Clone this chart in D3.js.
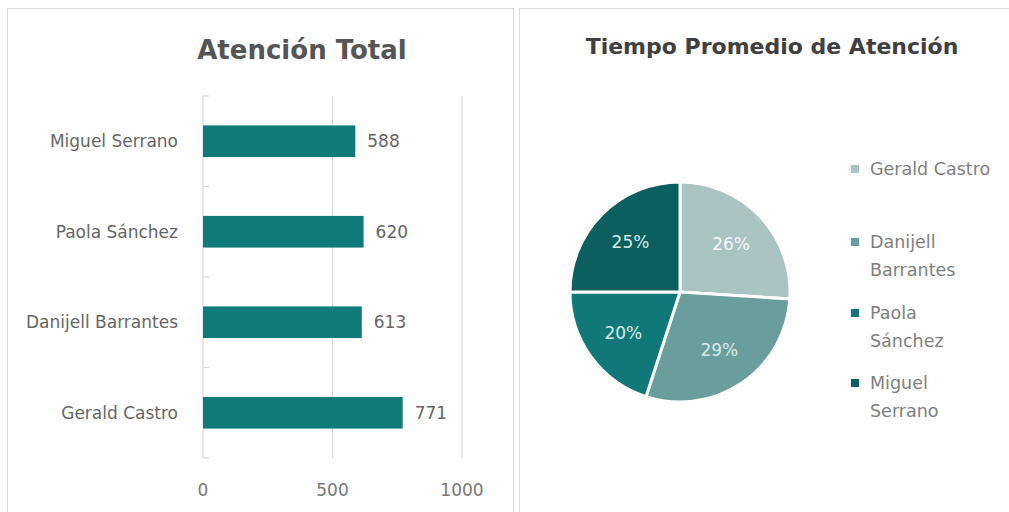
<!DOCTYPE html>
<html>
<head>
<meta charset="utf-8">
<script src="https://cdn.jsdelivr.net/npm/d3@7"></script>
<style>
  body { margin: 0; background: #fff; }
  text { font-family: "DejaVu Sans", "Noto Sans", sans-serif; }
</style>
</head>
<body>
<script>
// bar chart data (top to bottom)
const barNames = ["Miguel Serrano", "Paola Sánchez", "Danijell Barrantes", "Gerald Castro"];
const barValues = [588, 620, 613, 771];
const xTicks = [0, 500, 1000];

// pie data (clockwise from 12 o'clock)
const pieNames = ["Gerald Castro", "Danijell Barrantes", "Paola Sánchez", "Miguel Serrano"];
const pieShares = [26, 29, 20, 25];
const pieLegend = [["Gerald Castro"], ["Danijell", "Barrantes"], ["Paola", "Sánchez"], ["Miguel", "Serrano"]];
const pieColors = ["#a9c4c3", "#6a9e9d", "#11787a", "#0c5f5f"];

function draw() {
    let svg = d3.select("body").append("svg")
        .attr("width", 1009)
        .attr("height", 512);

    // panel frames
    svg.append("rect").attr("x", 7.5).attr("y", 8.5).attr("width", 506).attr("height", 520)
        .attr("fill", "#fff").attr("stroke", "#d9d9d9");
    svg.append("rect").attr("x", 519.5).attr("y", 8.5).attr("width", 500).attr("height", 520)
        .attr("fill", "#fff").attr("stroke", "#d9d9d9");

    // ---- left: Atención Total ----
    svg.append("text").attr("x", 302).attr("y", 59)
        .attr("text-anchor", "middle")
        .style("font-size", "26px").style("font-weight", "bold").attr("fill", "#555")
        .text("Atención Total");

    let x = d3.scaleLinear().domain([0, 1000]).range([203, 462]);
    let y = d3.scaleBand().domain(barNames).range([96, 458]).paddingInner(0.65).paddingOuter(0.325);

    // gridlines
    svg.selectAll(".grid").data(xTicks.slice(1)).enter().append("line")
        .attr("x1", d => x(d)).attr("x2", d => x(d))
        .attr("y1", 96).attr("y2", 458)
        .attr("stroke", "#d9d9d9").attr("stroke-width", 1.2);

    // y axis line and category ticks
    let yAxis = svg.append("g").attr("transform", "translate(203,0)");
    yAxis.append("line").attr("y1", 96).attr("y2", 458).attr("stroke", "#d9d9d9").attr("stroke-width", 1.2);
    let bounds = [96].concat(barNames.map(n => y(n) + y.bandwidth() + y.step() * y.paddingInner() / 2));
    bounds[bounds.length - 1] = 458;
    yAxis.selectAll(".tk").data(bounds).enter().append("line")
        .attr("x1", 0).attr("x2", 6).attr("y1", d => d).attr("y2", d => d)
        .attr("stroke", "#d9d9d9").attr("stroke-width", 1.2);

    svg.selectAll(".bar").data(barNames).enter().append("rect")
        .attr("x", x(0)).attr("y", n => y(n))
        .attr("width", (n, i) => x(barValues[i]) - x(0))
        .attr("height", y.bandwidth())
        .attr("fill", "#0f7b78");

    svg.selectAll(".val").data(barNames).enter().append("text")
        .attr("x", (n, i) => x(barValues[i]) + 12)
        .attr("y", n => y(n) + y.bandwidth() / 2)
        .attr("dy", "0.35em")
        .style("font-size", "17px").attr("fill", "#666")
        .text((n, i) => barValues[i]);

    svg.selectAll(".cat").data(barNames).enter().append("text")
        .attr("x", 178)
        .attr("y", n => y(n) + y.bandwidth() / 2)
        .attr("dy", "0.35em")
        .attr("text-anchor", "end")
        .style("font-size", "17px").attr("fill", "#666")
        .text(n => n);

    svg.selectAll(".xt").data(xTicks).enter().append("text")
        .attr("x", d => x(d)).attr("y", 490)
        .attr("dy", "0.35em")
        .attr("text-anchor", "middle")
        .style("font-size", "17px").attr("fill", "#777")
        .text(d => d);

    // ---- right: Tiempo Promedio de Atención ----
    svg.append("text").attr("x", 772).attr("y", 54)
        .attr("text-anchor", "middle")
        .style("font-size", "22px").style("font-weight", "bold").attr("fill", "#404040")
        .text("Tiempo Promedio de Atención");

    let pie = d3.pie().sort(null).value(d => d)(pieShares);
    let arc = d3.arc().innerRadius(0).outerRadius(110);
    let labelArc = d3.arc().innerRadius(70).outerRadius(70);
    let g = svg.append("g").attr("transform", "translate(680,292)");

    g.selectAll(".slice").data(pie).enter().append("path")
        .attr("d", arc)
        .attr("fill", (d, i) => pieColors[i])
        .attr("stroke", "#fff").attr("stroke-width", 3);

    g.selectAll(".pct").data(pie).enter().append("text")
        .attr("transform", d => "translate(" + labelArc.centroid(d) + ")")
        .attr("dy", "0.35em")
        .attr("text-anchor", "middle")
        .style("font-size", "17px")
        .attr("fill", (d, i) => i == 0 ? "#f4f8f8" : "#d6ebe9")
        .text(d => d.data + "%");

    let legendY = [169, 242, 313, 383];
    let leg = svg.selectAll(".leg").data(pieLegend).enter().append("g")
        .attr("transform", (d, i) => "translate(855," + legendY[i] + ")");
    leg.append("rect").attr("x", -4).attr("y", -4).attr("width", 8).attr("height", 8)
        .attr("fill", (d, i) => pieColors[i]);
    leg.each(function(lines) {
        d3.select(this).selectAll("text").data(lines).enter().append("text")
            .attr("x", 15).attr("y", (l, j) => j * 28)
            .attr("dy", "0.35em")
            .style("font-size", "17.5px").attr("fill", "#808080")
            .text(l => l);
    });
}

document.addEventListener("DOMContentLoaded", draw);
</script>
</body>
</html>
